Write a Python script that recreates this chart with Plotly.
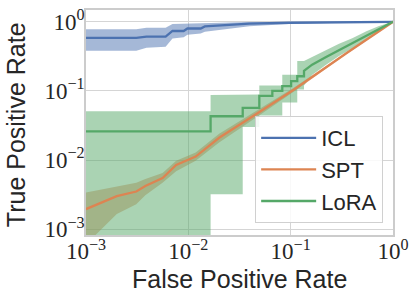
import plotly.graph_objects as go

# ---------------- data ----------------
icl_fpr = [0.001, 0.0031, 0.0039, 0.006, 0.007, 0.009, 0.0098, 0.0132, 0.0145, 0.0252, 0.0395, 0.0968, 0.297, 1.0]
icl_tpr = [0.586, 0.586, 0.612, 0.612, 0.737, 0.737, 0.80, 0.80, 0.857, 0.90, 0.94, 0.97, 0.99, 1.0]
icl_hi = [0.78, 0.78, 0.82, 0.82, 0.93, 0.94, 0.945, 0.95, 0.97, 0.98, 0.99, 0.995, 1.0, 1.0]
icl_lo = [0.38, 0.38, 0.42, 0.437, 0.573, 0.60, 0.65, 0.68, 0.72, 0.79, 0.86, 0.93, 0.97, 1.0]

spt_fpr = [0.001, 0.002, 0.0031, 0.0038, 0.0056, 0.0076, 0.0118, 0.02, 0.05, 0.108, 0.35, 1.0]
spt_tpr = [0.00195, 0.0030, 0.0035, 0.0042, 0.0055, 0.0085, 0.0112, 0.021, 0.05, 0.105, 0.35, 1.0]
spt_hi = [0.0034, 0.0042, 0.0047, 0.0053, 0.0065, 0.0098, 0.0128, 0.024, 0.055, 0.112, 0.36, 1.0]
spt_lo = [0.0006, 0.00166, 0.0023, 0.0031, 0.0047, 0.0069, 0.0098, 0.018, 0.045, 0.098, 0.34, 1.0]

lora_fpr = [0.001, 0.0165, 0.0165, 0.034, 0.034, 0.0494, 0.0494, 0.0662, 0.0662, 0.0828, 0.0828,
            0.101, 0.101, 0.116, 0.116, 0.135, 0.135, 0.162, 0.222, 0.297, 0.40, 0.55, 0.73, 1.0]
lora_tpr = [0.026, 0.026, 0.043, 0.043, 0.057, 0.057, 0.085, 0.085, 0.10, 0.10, 0.117,
            0.117, 0.139, 0.139, 0.163, 0.163, 0.195, 0.24, 0.31, 0.39, 0.49, 0.64, 0.80, 1.0]
lora_hi = [0.051, 0.051, 0.087, 0.087, 0.089, 0.089, 0.12, 0.12, 0.12, 0.12, 0.172,
           0.172, 0.172, 0.172, 0.27, 0.27, 0.27, 0.31, 0.39, 0.48, 0.58, 0.73, 0.87, 1.0]
lora_lo = [0.0005, 0.0005, 0.0032, 0.0032, 0.030, 0.030, 0.044, 0.044, 0.044, 0.044, 0.068,
           0.068, 0.068, 0.068, 0.105, 0.105, 0.12, 0.17, 0.24, 0.32, 0.41, 0.55, 0.74, 1.0]

names = ["ICL", "SPT", "LoRA"]
colors = ["#4C72B0", "#DD8452", "#55A868"]
bands = ["rgba(76,114,176,0.5)", "rgba(221,132,82,0.5)", "rgba(85,168,104,0.5)"]

tick_vals = [0.001, 0.01, 0.1, 1]
tick_text = ["10<sup>−3</sup>", "10<sup>−2</sup>", "10<sup>−1</sup>", "10<sup>0</sup>"]
x_title = "False Positive Rate"
y_title = "True Positive Rate"

series = [
    (icl_fpr, icl_tpr, icl_hi, icl_lo),
    (spt_fpr, spt_tpr, spt_hi, spt_lo),
    (lora_fpr, lora_tpr, lora_hi, lora_lo),
]

fig = go.Figure()
for (fx, ty, hi, lo), bc in zip(series, bands):
    fig.add_trace(go.Scatter(
        x=list(fx) + list(fx)[::-1], y=list(hi) + list(lo)[::-1],
        fill="toself", fillcolor=bc, line=dict(width=0), mode="lines",
        showlegend=False, hoverinfo="skip"))
for (fx, ty, hi, lo), nm, c in zip(series, names, colors):
    fig.add_trace(go.Scatter(x=fx, y=ty, mode="lines", name=nm,
                             line=dict(color=c, width=2.3)))

txt = "#262626"
grid = "#d5d5d5"
fig.update_layout(
    width=415, height=301,
    margin=dict(l=86, r=21, t=6, b=66),
    paper_bgcolor="white", plot_bgcolor="white",
    font=dict(family="Liberation Sans", color=txt),
    showlegend=True,
    legend=dict(x=0.551, y=0.529, xanchor="left", yanchor="top",
                bgcolor="rgba(255,255,255,0.85)", bordercolor="#d0d0d0", borderwidth=1,
                font=dict(size=22, color=txt, family="Liberation Sans"),
                itemwidth=55, tracegroupgap=0),
    annotations=[
        dict(text=x_title, xref="paper", yref="paper", x=0.5, y=-0.197,
             xanchor="center", yanchor="middle", showarrow=False,
             font=dict(size=25, color=txt, family="Liberation Sans")),
        dict(text=y_title, xref="paper", yref="paper", x=-0.23, y=0.49,
             xanchor="center", yanchor="middle", showarrow=False, textangle=-90,
             font=dict(size=25, color=txt, family="Liberation Sans")),
    ],
)
fig.update_xaxes(type="log", range=[-3, 0], tickvals=tick_vals, ticktext=tick_text,
                 tickfont=dict(family="Liberation Serif", size=23, color=txt),
                 ticklabeloverflow="allow", ticklabelstandoff=-5,
                 showgrid=True, gridcolor=grid, gridwidth=1,
                 showline=True, linecolor="#cccccc", linewidth=1.5, mirror=True,
                 ticks="", zeroline=False)
fig.update_yaxes(type="log", range=[-3.085, 0.171], tickvals=tick_vals, ticktext=tick_text,
                 tickfont=dict(family="Liberation Serif", size=23, color=txt),
                 ticklabeloverflow="allow", ticklabelstandoff=-5,
                 showgrid=True, gridcolor=grid, gridwidth=1,
                 showline=True, linecolor="#cccccc", linewidth=1.5, mirror=True,
                 ticks="", zeroline=False)

fig.write_html("out.html", config={"displayModeBar": False},
               post_script="document.body.style.margin='0';")
